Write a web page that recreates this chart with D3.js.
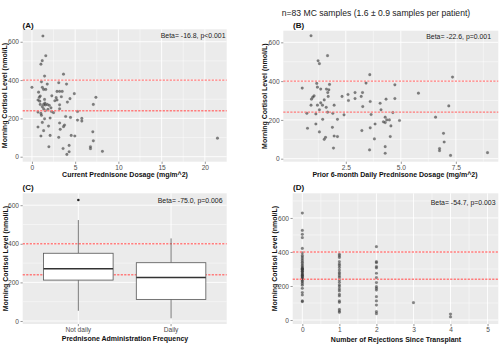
<!DOCTYPE html>
<html>
<head>
<meta charset="utf-8">
<script src="https://cdn.jsdelivr.net/npm/d3@7"></script>
<style>
  html, body { margin: 0; padding: 0; background: #fff; }
  svg { display: block; font-family: "Liberation Sans", Arial, sans-serif; }
</style>
</head>
<body>
<svg id="chart" width="500" height="345"></svg>
<script>
// ---- Data ----------------------------------------------------------------
// Panel A: current prednisone dosage (mg/m^2) vs morning cortisol (nmol/L)
const doseCurrent = [1.27,1.6,1.19,1.04,1.46,3.65,1.1,1.77,3.1,4.0,0,1.2,1.35,1.6,0.77,2.9,3.2,3.5,
  0.96,0.85,2.3,3.4,2.8,4.9,4.4,7.4,0.7,1.46,2.65,2.9,4.1,0.96,1.35,1.54,1.77,2.0,1.2,3.2,7.1,
  1.35,1.85,1.54,3.2,2.27,2.5,5.27,0.7,1.04,1.1,2.1,1.46,3.9,4.46,5.77,5.27,5.77,1.2,3.2,3.77,
  3.65,0.7,1.92,3.27,1.35,7.04,1.04,2.1,3.1,4.54,4.96,7.1,1.96,6.77,6.77,4.3,3.6,4.3,8.15,4.04,
  21.46,1.5,2.2,0.9];
const cortisolA = [630,527,501,483,421,431,391,379,386,379,362,362,351,351,337,341,341,341,
  317,310,318,313,308,329,303,310,296,299,292,296,285,273,273,270,273,268,261,271,273,
  250,247,240,250,236,230,236,233,226,216,202,198,210,205,200,191,186,179,176,165,
  157,155,160,143,136,130,108,111,101,111,108,83,52,52,42,59,43,26,28,12,
  97,280,255,290];

// Panel B: prior 6-month daily prednisone dosage vs morning cortisol
const doseSixMonth = [0.92,1.24,1.3,1.67,0.52,1.18,1.21,1.36,1.62,1.76,1.73,1.0,1.06,0.94,0.92,0.73,
  1.68,1.7,1.52,1.36,1.44,1.21,1.61,1.67,1.91,1.97,1.14,1.3,1.14,1.45,2.12,0.76,1.89,1.3,1.58,
  1.52,1.97,2.12,1.94,2.33,2.62,2.6,2.92,2.92,3.2,3.26,3.27,3.42,3.59,3.61,3.65,3.61,3.83,3.8,
  3.58,2.42,3.23,4.06,4.1,4.21,4.29,4.36,4.29,4.48,4.33,4.55,4.52,4.64,4.73,4.73,4.94,4.29,4.29,
  5.8,6.58,6.94,6.76,6.76,6.97,7.18,7.35,7.26,8.94];
const cortisolB = [634,505,490,531,364,388,369,359,359,383,355,317,324,307,276,234,
  341,321,303,288,276,276,265,240,234,276,231,252,179,203,203,157,162,138,110,
  100,117,114,55,321,300,331,341,310,321,341,269,390,433,295,228,159,179,102,
  45,226,145,286,252,190,214,200,186,200,307,169,114,238,381,310,197,62,28,
  338,214,131,52,41,86,272,421,17,31];

// Panel C: box-plot summaries by administration frequency
const freqCategories = ["Not daily", "Daily"];
const boxLow    = [53, 14];
const boxQ1     = [212, 112];
const boxMedian = [271, 226];
const boxQ3     = [351, 302];
const boxHigh   = [523, 428];
const boxOutliers = [[627], []];

// Panel D: number of rejections since transplant vs morning cortisol
const rejections = [
  0,0,0,0,0,0,0,0,0,0,0,0,0,0,0,0,0,0,0,0,0,0,0,0,0,0,0,0,0,0,0,0,0,0,0,0,0,0,0,
  1,1,1,1,1,1,1,1,1,1,1,1,1,1,1,1,1,1,1,1,1,1,1,1,1,
  2,2,2,2,2,2,2,2,2,2,2,2,2,2,2,2,
  3,4,4];
const cortisolD = [
  629,527,504,484,421,395,380,370,360,350,340,330,320,312,305,298,290,283,276,270,262,255,248,240,
  232,225,215,205,186,161,147,112,108,300,287,265,258,244,300,
  386,377,367,343,329,320,308,294,280,271,259,249,235,222,206,196,182,171,151,141,112,104,63,53,45,
  431,343,337,314,306,275,249,220,196,186,176,137,112,88,49,37,
  102,35,18];

// Axis ticks
const yTicks = [0, 200, 400, 600];
const refLevels = [240, 400];

// ---- Layout ----------------------------------------------------------------
const panels = [
  { tag: "(A)", tagX: 22.5, tagY: 27.5,
    left: 22.7, right: 226.7, top: 29.3, bottom: 161.7,
    xDom: [-1.07, 22.53], yDom: [-26, 665],
    xTicks: [0, 5, 10, 15, 20], xMinor: [2.5, 7.5, 12.5, 17.5], xFmt: d => d,
    yMinor: [100, 300, 500],
    xTitle: "Current Prednisone Dosage (mg/m^2)", xTitleX: 125, xTitleY: 176.5,
    yTitleX: 7.3,
    note: "Beta= -16.8,  p<0.001", noteX: 225.5, noteY: 37.5 },
  { tag: "(B)", tagX: 293, tagY: 27.5,
    left: 283.3, right: 498.3, top: 30.7, bottom: 161.7,
    xDom: [-0.34, 9.43], yDom: [-15.5, 660],
    xTicks: [2.5, 5.0, 7.5], xMinor: [1.25, 3.75, 6.25, 8.75], xFmt: d3.format(".1f"),
    yMinor: [100, 300, 500],
    xTitle: "Prior 6-month Daily Prednisone Dosage  (mg/m^2)", xTitleX: 395, xTitleY: 176.5,
    yTitleX: 267,
    note: "Beta= -22.6, p=0.001", noteX: 491, noteY: 38.5 },
  { tag: "(C)", tagX: 22.5, tagY: 189.5,
    left: 22.7, right: 226.7, top: 193.3, bottom: 324,
    yDom: [-15.5, 661.6], yMinor: [100, 300, 500],
    xTitle: "Prednisone Administration Frequency", xTitleX: 125, xTitleY: 341,
    yTitleX: 7.5,
    note: "Beta= -75.0, p=0.006", noteX: 222.5, noteY: 203 },
  { tag: "(D)", tagX: 293, tagY: 189.5,
    left: 292.7, right: 498.3, top: 193.3, bottom: 324,
    xDom: [-0.26, 5.29], yDom: [-23.5, 745],
    xTicks: [0, 1, 2, 3, 4, 5], xMinor: [0.5, 1.5, 2.5, 3.5, 4.5], xFmt: d => d,
    yMinor: [100, 300, 500, 700],
    xTitle: "Number of Rejections Since Transplant", xTitleX: 396, xTitleY: 341.5,
    yTitleX: 277,
    note: "Beta= -54.7, p=0.003", noteX: 495.5, noteY: 204.5 }
];

const svg = d3.select("#chart");

const GRID_BG = "#EBEBEB";
const TICK_COL = "#4D4D4D";
const POINT_COL = "#3a3a3a";

svg.append("text")
  .attr("x", 376).attr("y", 16)
  .attr("text-anchor", "middle")
  .attr("font-size", 8.6)
  .attr("fill", "#222")
  .text("n=83 MC samples (1.6 \u00B1 0.9 samples per patient)");

function drawFrame(p, x, y, discrete) {
  const g = svg.append("g");
  g.append("rect")
    .attr("x", p.left).attr("y", p.top)
    .attr("width", p.right - p.left).attr("height", p.bottom - p.top)
    .attr("fill", GRID_BG);

  // minor grid
  p.yMinor.forEach(v => {
    g.append("line").attr("x1", p.left).attr("x2", p.right)
      .attr("y1", y(v)).attr("y2", y(v))
      .attr("stroke", "#fff").attr("stroke-width", 0.45);
  });
  if (!discrete) {
    p.xMinor.forEach(v => {
      g.append("line").attr("y1", p.top).attr("y2", p.bottom)
        .attr("x1", x(v)).attr("x2", x(v))
        .attr("stroke", "#fff").attr("stroke-width", 0.45);
    });
  }
  // major grid
  yTicks.forEach(v => {
    g.append("line").attr("x1", p.left).attr("x2", p.right)
      .attr("y1", y(v)).attr("y2", y(v))
      .attr("stroke", "#fff").attr("stroke-width", 0.9);
  });
  const xMajor = discrete ? x.domain() : p.xTicks;
  const xPos = discrete ? (d => x(d) + x.bandwidth() / 2) : x;
  xMajor.forEach(v => {
    g.append("line").attr("y1", p.top).attr("y2", p.bottom)
      .attr("x1", xPos(v)).attr("x2", xPos(v))
      .attr("stroke", "#fff").attr("stroke-width", 0.9);
  });

  // axes
  const yAxis = d3.axisLeft(y).tickValues(yTicks).tickSize(2.2).tickPadding(1.5);
  const ya = svg.append("g").attr("transform", `translate(${p.left},0)`).call(yAxis);
  const xAxis = discrete
    ? d3.axisBottom(x).tickSize(2.2).tickPadding(1.2)
    : d3.axisBottom(x).tickValues(p.xTicks).tickFormat(p.xFmt).tickSize(2.2).tickPadding(1.2);
  const xa = svg.append("g").attr("transform", `translate(0,${p.bottom})`).call(xAxis);
  [ya, xa].forEach(a => {
    a.select(".domain").remove();
    a.selectAll(".tick line").attr("stroke", "#333").attr("stroke-width", 0.5);
    a.selectAll(".tick text").attr("fill", TICK_COL).attr("font-size", 6.6)
      .attr("font-family", "Liberation Sans, Arial, sans-serif");
  });

  // titles
  svg.append("text").attr("x", p.tagX).attr("y", p.tagY)
    .attr("font-size", 8).attr("font-weight", "bold").attr("fill", "#111").text(p.tag);
  svg.append("text").attr("x", p.xTitleX).attr("y", p.xTitleY)
    .attr("text-anchor", "middle").attr("font-size", 7).attr("font-weight", "bold")
    .attr("fill", "#111").text(p.xTitle);
  const cy = (p.top + p.bottom) / 2;
  svg.append("text")
    .attr("transform", `translate(${p.yTitleX},${cy}) rotate(-90)`)
    .attr("text-anchor", "middle").attr("font-size", 7).attr("font-weight", "bold")
    .attr("fill", "#111").text("Morning Cortisol Level (nmol/L)");
}

function drawRefLines(p, y) {
  refLevels.forEach(v => {
    svg.append("line").attr("x1", p.left).attr("x2", p.right)
      .attr("y1", y(v)).attr("y2", y(v))
      .attr("stroke", "#FF7B7B").attr("stroke-width", 1.4)
      .attr("stroke-dasharray", "2.2,1.3");
  });
}

function drawNote(p) {
  svg.append("text").attr("x", p.noteX).attr("y", p.noteY)
    .attr("text-anchor", "end").attr("font-size", 6.9).attr("fill", "#222")
    .text(p.note);
}

function scatterPanel(p, xs, ys) {
  const x = d3.scaleLinear().domain(p.xDom).range([p.left, p.right]);
  const y = d3.scaleLinear().domain(p.yDom).range([p.bottom, p.top]);
  drawFrame(p, x, y, false);
  svg.append("g").selectAll("circle")
    .data(d3.zip(xs, ys))
    .join("circle")
    .attr("cx", d => x(d[0])).attr("cy", d => y(d[1]))
    .attr("r", 1.35)
    .attr("fill", POINT_COL).attr("fill-opacity", 0.62)
    .attr("stroke", POINT_COL).attr("stroke-opacity", 0.25).attr("stroke-width", 0.6);
  drawRefLines(p, y);
  drawNote(p);
}

// A and B
scatterPanel(panels[0], doseCurrent, cortisolA);
scatterPanel(panels[1], doseSixMonth, cortisolB);

// C: box plot
(function () {
  const p = panels[2];
  const x = d3.scaleBand().domain(freqCategories).range([p.left, p.right])
    .paddingInner(1 / 2.2 * 0.0).paddingOuter(0);
  // discrete axis with 0.6 unit expansion each side
  const unit = (p.right - p.left) / 2.2;
  const xb = d3.scaleBand().domain(freqCategories)
    .range([p.left + 0.1 * unit, p.right - 0.1 * unit]).padding(0);
  const y = d3.scaleLinear().domain(p.yDom).range([p.bottom, p.top]);
  drawFrame(p, xb, y, true);
  drawRefLines(p, y);
  const bw = 0.75 * unit;
  const g = svg.append("g");
  freqCategories.forEach((c, i) => {
    const cx = xb(c) + xb.bandwidth() / 2;
    g.append("line").attr("x1", cx).attr("x2", cx)
      .attr("y1", y(boxLow[i])).attr("y2", y(boxQ1[i]))
      .attr("stroke", "#555").attr("stroke-width", 0.8);
    g.append("line").attr("x1", cx).attr("x2", cx)
      .attr("y1", y(boxQ3[i])).attr("y2", y(boxHigh[i]))
      .attr("stroke", "#555").attr("stroke-width", 0.8);
    g.append("rect").attr("x", cx - bw / 2).attr("width", bw)
      .attr("y", y(boxQ3[i])).attr("height", y(boxQ1[i]) - y(boxQ3[i]))
      .attr("fill", "#fff").attr("stroke", "#555").attr("stroke-width", 0.8);
    g.append("line").attr("x1", cx - bw / 2).attr("x2", cx + bw / 2)
      .attr("y1", y(boxMedian[i])).attr("y2", y(boxMedian[i]))
      .attr("stroke", "#333").attr("stroke-width", 1.5);
    boxOutliers[i].forEach(v => {
      g.append("circle").attr("cx", cx).attr("cy", y(v)).attr("r", 1.3).attr("fill", "#222");
    });
  });
  drawNote(p);
})();

// D
scatterPanel(panels[3], rejections, cortisolD);
</script>
</body>
</html>
